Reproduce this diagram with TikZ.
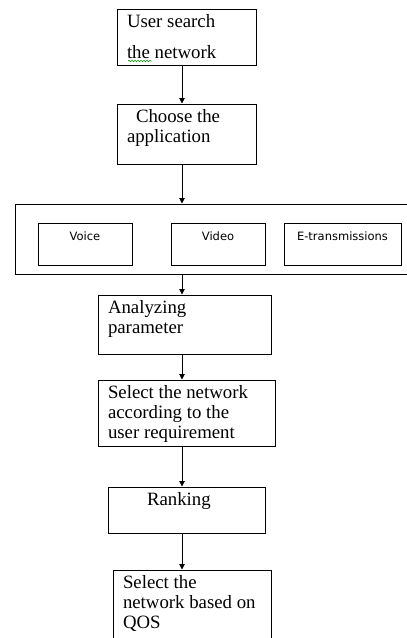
\documentclass[tikz,border=0pt]{standalone}
\usepackage{fontspec}
\setmainfont{Liberation Serif}
\newfontfamily\appfont{DejaVu Sans}
\usetikzlibrary{arrows.meta,decorations.pathmorphing}
% text of a step, set from the top of its box
\newcommand\stepbody[3]{\parbox[c][#1][t]{#2}{\raggedright\strut #3}}

\begin{document}
\begin{tikzpicture}[
	x=1pt,y=-1pt,
	stepbox/.style={draw,line width=1pt,rectangle,inner xsep=10pt,inner ysep=5pt,
		font=\fontsize{18.8}{19.8}\selectfont},
	appbox/.style={draw,line width=1pt,rectangle,align=center,inner xsep=4pt,inner ysep=4pt,
		text height=13.5pt,text depth=20.5pt,font=\appfont\fontsize{11.5}{14}\selectfont},
	flow/.style={line width=1pt,-{Triangle[width=5.5pt,length=5.5pt]}}
]
\useasboundingbox (0,0) rectangle (407,638);
\clip (0,0) rectangle (407,638);
\coordinate (spine) at (182,0);
\node[stepbox] (search) at (186.5,37) {\stepbody{46pt}{119pt}{User search\\[11pt]the network}};
\draw[green!60!black,line width=0.5pt,decorate,decoration={snake,segment length=3pt,amplitude=0.8pt}] (128,61) -- (152,61);
\node[stepbox] (choose) at (186.5,134) {\stepbody{50pt}{119pt}{\hspace*{9pt}Choose the\\application}};
\node[draw,line width=1pt,rectangle,minimum width=410pt,minimum height=70pt] (apps) at (220,239) {};
\node[appbox,minimum width=94pt] (voice) at (85,244) {Voice};
\node[appbox,minimum width=94pt] (video) at (218,244) {Video};
\node[appbox,minimum width=117pt] (etrans) at (342.5,244) {E-transmissions};
\node[stepbox] (analyze) at (184.5,324.5) {\stepbody{49pt}{153pt}{Analyzing\\parameter}};
\node[stepbox] (select) at (186.5,413) {\stepbody{56pt}{157pt}{Select the network\\according to the\\user requirement}};
\node[stepbox] (rank) at (186.5,510) {\stepbody{36pt}{137pt}{\hspace*{29pt}Ranking}};
\node[stepbox] (qos) at (192,610) {\stepbody{70pt}{138pt}{Select the\\network based on\\QOS}};
\draw[flow] (spine |- search.south) -- (spine |- choose.north);
\draw[flow] (spine |- choose.south) -- (spine |- apps.north);
\draw[flow] (spine |- apps.south) -- (spine |- analyze.north);
\draw[flow] (spine |- analyze.south) -- (spine |- select.north);
\draw[flow] (spine |- select.south) -- (spine |- rank.north);
\draw[flow] (spine |- rank.south) -- (spine |- qos.north);
\end{tikzpicture}
\end{document}
